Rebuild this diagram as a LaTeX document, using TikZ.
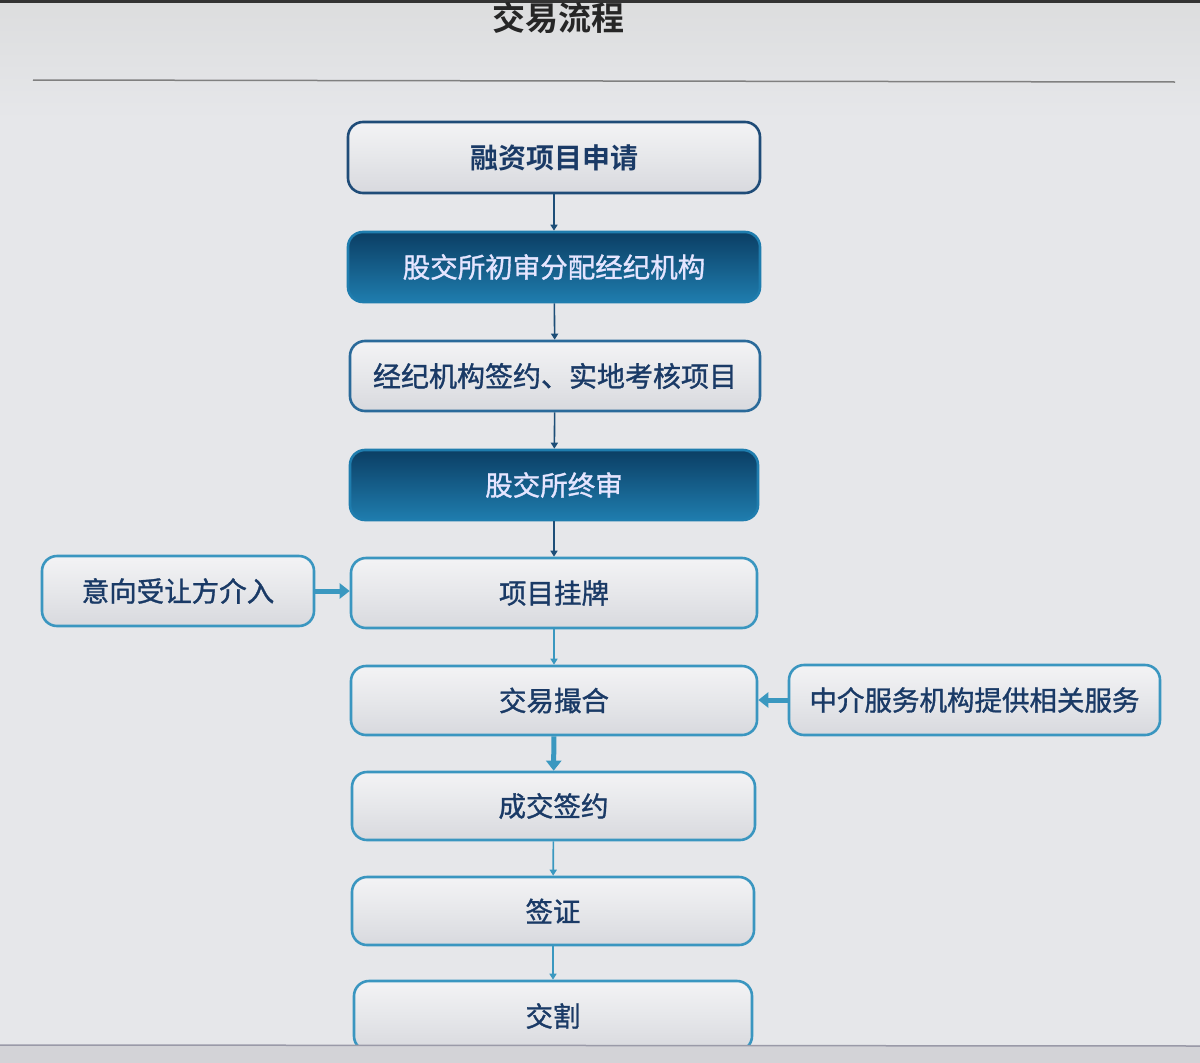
\documentclass[tikz,border=0pt]{standalone}
\usepackage{fontspec}
\newfontfamily\cjk{Noto Sans CJK SC}[BoldFont={Noto Sans CJK SC Bold}]
\newfontfamily\cjkm{Noto Sans CJK SC}[BoldFont={Noto Sans CJK SC}, BoldFeatures={FakeBold=1.2}]
\usetikzlibrary{arrows.meta}
\definecolor{bgc}{HTML}{E6E7EA}
\definecolor{bgtop}{HTML}{DCDDDE}
\definecolor{navy}{HTML}{1A3A66}
\definecolor{bordark}{HTML}{1F4C78}
\definecolor{bormid}{HTML}{2A6A9A}
\definecolor{borteal}{HTML}{3A96C0}
\definecolor{darktop}{HTML}{0B3E64}
\definecolor{darkbot}{HTML}{1F7DAE}
\definecolor{lighttop}{HTML}{F3F3F5}
\definecolor{lightmid}{HTML}{E6E7EA}
\definecolor{lightbot}{HTML}{D8D9DE}
\definecolor{arrnavy}{HTML}{1D4E78}
\definecolor{arrteal}{HTML}{3A98C0}
\definecolor{statusbar}{HTML}{D3D3D7}
\definecolor{statusline}{HTML}{9A9AA8}
\tikzset{
  x=1pt, y=-1pt,
  boxtxt/.style={font=\cjkm\bfseries\fontsize{27.5}{30}\selectfont, text=navy},
  lightbox/.style={boxtxt, draw=borteal, line width=2.6pt, rounded corners=15pt,
    top color=lighttop, bottom color=lightbot, middle color=lightmid, inner sep=0pt},
  darkbox/.style={boxtxt, text=white!90!blue, draw=darkbot, line width=2.6pt, rounded corners=15pt,
    top color=darktop, bottom color=darkbot, inner sep=0pt},
  thinarrow/.style={line width=1.6pt, -{Triangle[width=7pt,length=6pt]}},
  thickarrow/.style={line width=5pt, -{Triangle[width=15pt,length=10pt]}},
}
\begin{document}
\begin{tikzpicture}
\useasboundingbox (0,0) rectangle (1200,1063);
% background
\fill[bgc] (0,0) rectangle (1200,1063);
\shade[top color=bgtop, bottom color=bgc] (0,0) rectangle (1200,120);
\fill[black!80] (0,0) rectangle (1200,3);
% title and rule
\node[font=\cjk\bfseries\fontsize{33}{36}\selectfont, text=black!85] (title) at (558,18) {交易流程};
\draw[gray, line width=1.5pt] (33,80) -- (1175,82);
% main column
\node[lightbox, draw=bordark, minimum width=412pt, minimum height=71pt, font=\cjk\bfseries\fontsize{28}{30}\selectfont] (b1) at (554,157.5) {融资项目申请};
\node[darkbox, minimum width=412pt, minimum height=70pt] (b2) at (554,267) {股交所初审分配经纪机构};
\node[lightbox, draw=bormid, minimum width=410pt, minimum height=70pt, font=\cjkm\bfseries\fontsize{28}{30}\selectfont] (b3) at (555,376) {经纪机构签约、实地考核项目};
\node[darkbox, minimum width=408pt, minimum height=70pt] (b4) at (554,485) {股交所终审};
\node[lightbox, minimum width=406pt, minimum height=70pt] (b5) at (554,593) {项目挂牌};
\node[lightbox, minimum width=406pt, minimum height=69pt] (b6) at (554,700.5) {交易撮合};
\node[lightbox, minimum width=403pt, minimum height=68pt] (b7) at (553.5,806) {成交签约};
\node[lightbox, minimum width=402pt, minimum height=68pt] (b8) at (553,911) {签证};
\node[lightbox, minimum width=398pt, minimum height=70pt] (b9) at (553,1016) {交割};
% side boxes
\node[lightbox, minimum width=272pt, minimum height=70pt] (left) at (178,591) {意向受让方介入};
\node[lightbox, minimum width=371pt, minimum height=70pt] (right) at (974.5,700) {中介服务机构提供相关服务};
% connectors
\draw[thinarrow, arrnavy] (b1) -- (b2);
\draw[thinarrow, arrnavy] (b2) -- (b3);
\draw[thinarrow, arrnavy] (b3) -- (b4);
\draw[thinarrow, arrnavy] (b4) -- (b5);
\draw[thinarrow, arrteal] (b5) -- (b6);
\draw[thickarrow, arrteal] (b6) -- (b7);
\draw[thinarrow, arrteal] (b7) -- (b8);
\draw[thinarrow, arrteal] (b8) -- (b9);
\draw[thickarrow, arrteal] (left.east) -- (b5.west |- left.east);
\draw[thickarrow, arrteal] (right.west) -- (b6.east |- right.west);
% status bar
\fill[statusbar] (0,1045) rectangle (1200,1063);
\draw[statusline, line width=1.5pt] (0,1045) -- (1200,1046);
\end{tikzpicture}
\end{document}
